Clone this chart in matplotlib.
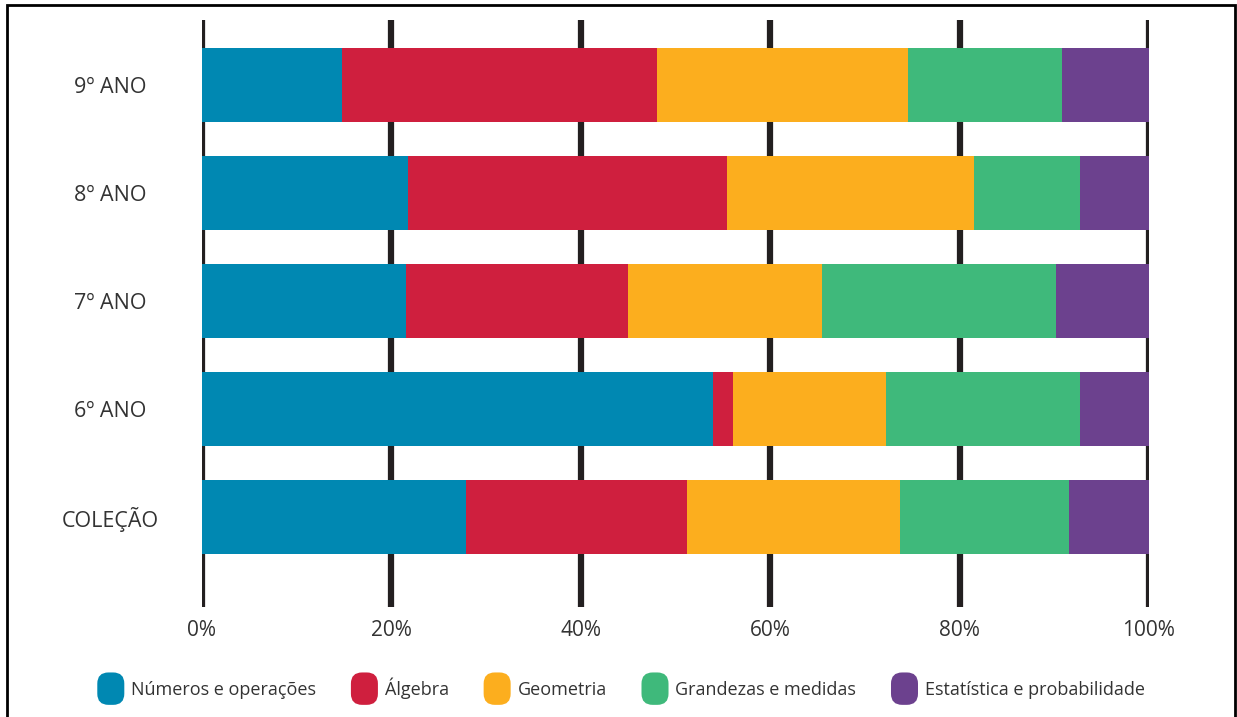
from matplotlib import pyplot as plt
from matplotlib.patches import FancyBboxPatch, Patch, Rectangle
from matplotlib.legend_handler import HandlerPatch
import numpy as np


# Data (percent of each year's content per theme)
anos = ['COLEÇÃO', '6º ANO', '7º ANO', '8º ANO', '9º ANO']
temas = ['Números e operações', 'Álgebra', 'Geometria',
         'Grandezas e medidas', 'Estatística e probabilidade']
numeros = [27.9, 54.0, 21.5, 21.8, 14.8]
algebra = [23.3, 2.1, 23.5, 33.6, 33.2]
geometria = [22.5, 16.1, 20.5, 26.1, 26.5]
grandezas = [17.9, 20.5, 24.7, 11.2, 16.3]
estatistica = [8.4, 7.3, 9.8, 7.3, 9.2]
xticks = [0, 20, 40, 60, 80, 100]
xtick_labels = ['0%', '20%', '40%', '60%', '80%', '100%']

cores = ['#0088b2', '#cf1f3e', '#fcae1e', '#3fb97b', '#6c418e']
series = [numeros, algebra, geometria, grandezas, estatistica]

plt.rcParams['font.family'] = ['Open Sans', 'DejaVu Sans']

fig = plt.figure(figsize=(12.37, 7.17), dpi=100)
ax = fig.add_axes([202/1237, 1 - 607/717, 947/1237, 587/717])

# thick vertical grid lines behind the bars
for t in xticks:
    ax.axvline(t, color='#231f20', linewidth=4.5, zorder=1)

y = np.arange(len(anos))
left = np.zeros(len(anos))
for vals, cor, nome in zip(series, cores, temas):
    vals = np.array(vals)
    ax.barh(y, vals, left=left, height=0.685, color=cor, label=nome,
            edgecolor='none', zorder=2)
    left += vals

ax.set_xlim(0, 100)
ax.set_ylim(-0.833, 4.602)
ax.set_xticks(xticks, xtick_labels)
ax.set_yticks(y, anos)
for lab in ax.get_yticklabels():
    lab.set_horizontalalignment('center')
ax.tick_params(axis='y', length=0, pad=66, labelsize=15.5, labelcolor='#333333')
ax.tick_params(axis='x', length=0, pad=9, labelsize=15, labelcolor='#333333')
for s in ax.spines.values():
    s.set_visible(False)
ax.patch.set_visible(False)


def rounded(legend, orig_handle, xdescent, ydescent, width, height, fontsize):
    return FancyBboxPatch((-xdescent + 1, -ydescent - 5), width - 2, height + 10,
                          boxstyle='round,pad=0,rounding_size=8')


handles = [Patch(facecolor=c, label=t) for c, t in zip(cores, temas)]
fig.legend(handles=handles, loc='center', bbox_to_anchor=(0.5015, 1 - 688/717),
           ncol=5, frameon=False, fontsize=13, handlelength=1.65, handleheight=1.2,
           handletextpad=0.3, columnspacing=1.85, labelcolor='#333333',
           handler_map={Patch: HandlerPatch(patch_func=rounded)})

# outer frame
fig.add_artist(Rectangle((7.5/1237, -0.05), 1227/1237, 1.05 - 5/717,
                         transform=fig.transFigure, fill=False,
                         edgecolor='black', linewidth=2))

plt.savefig('out.png', dpi=100)
